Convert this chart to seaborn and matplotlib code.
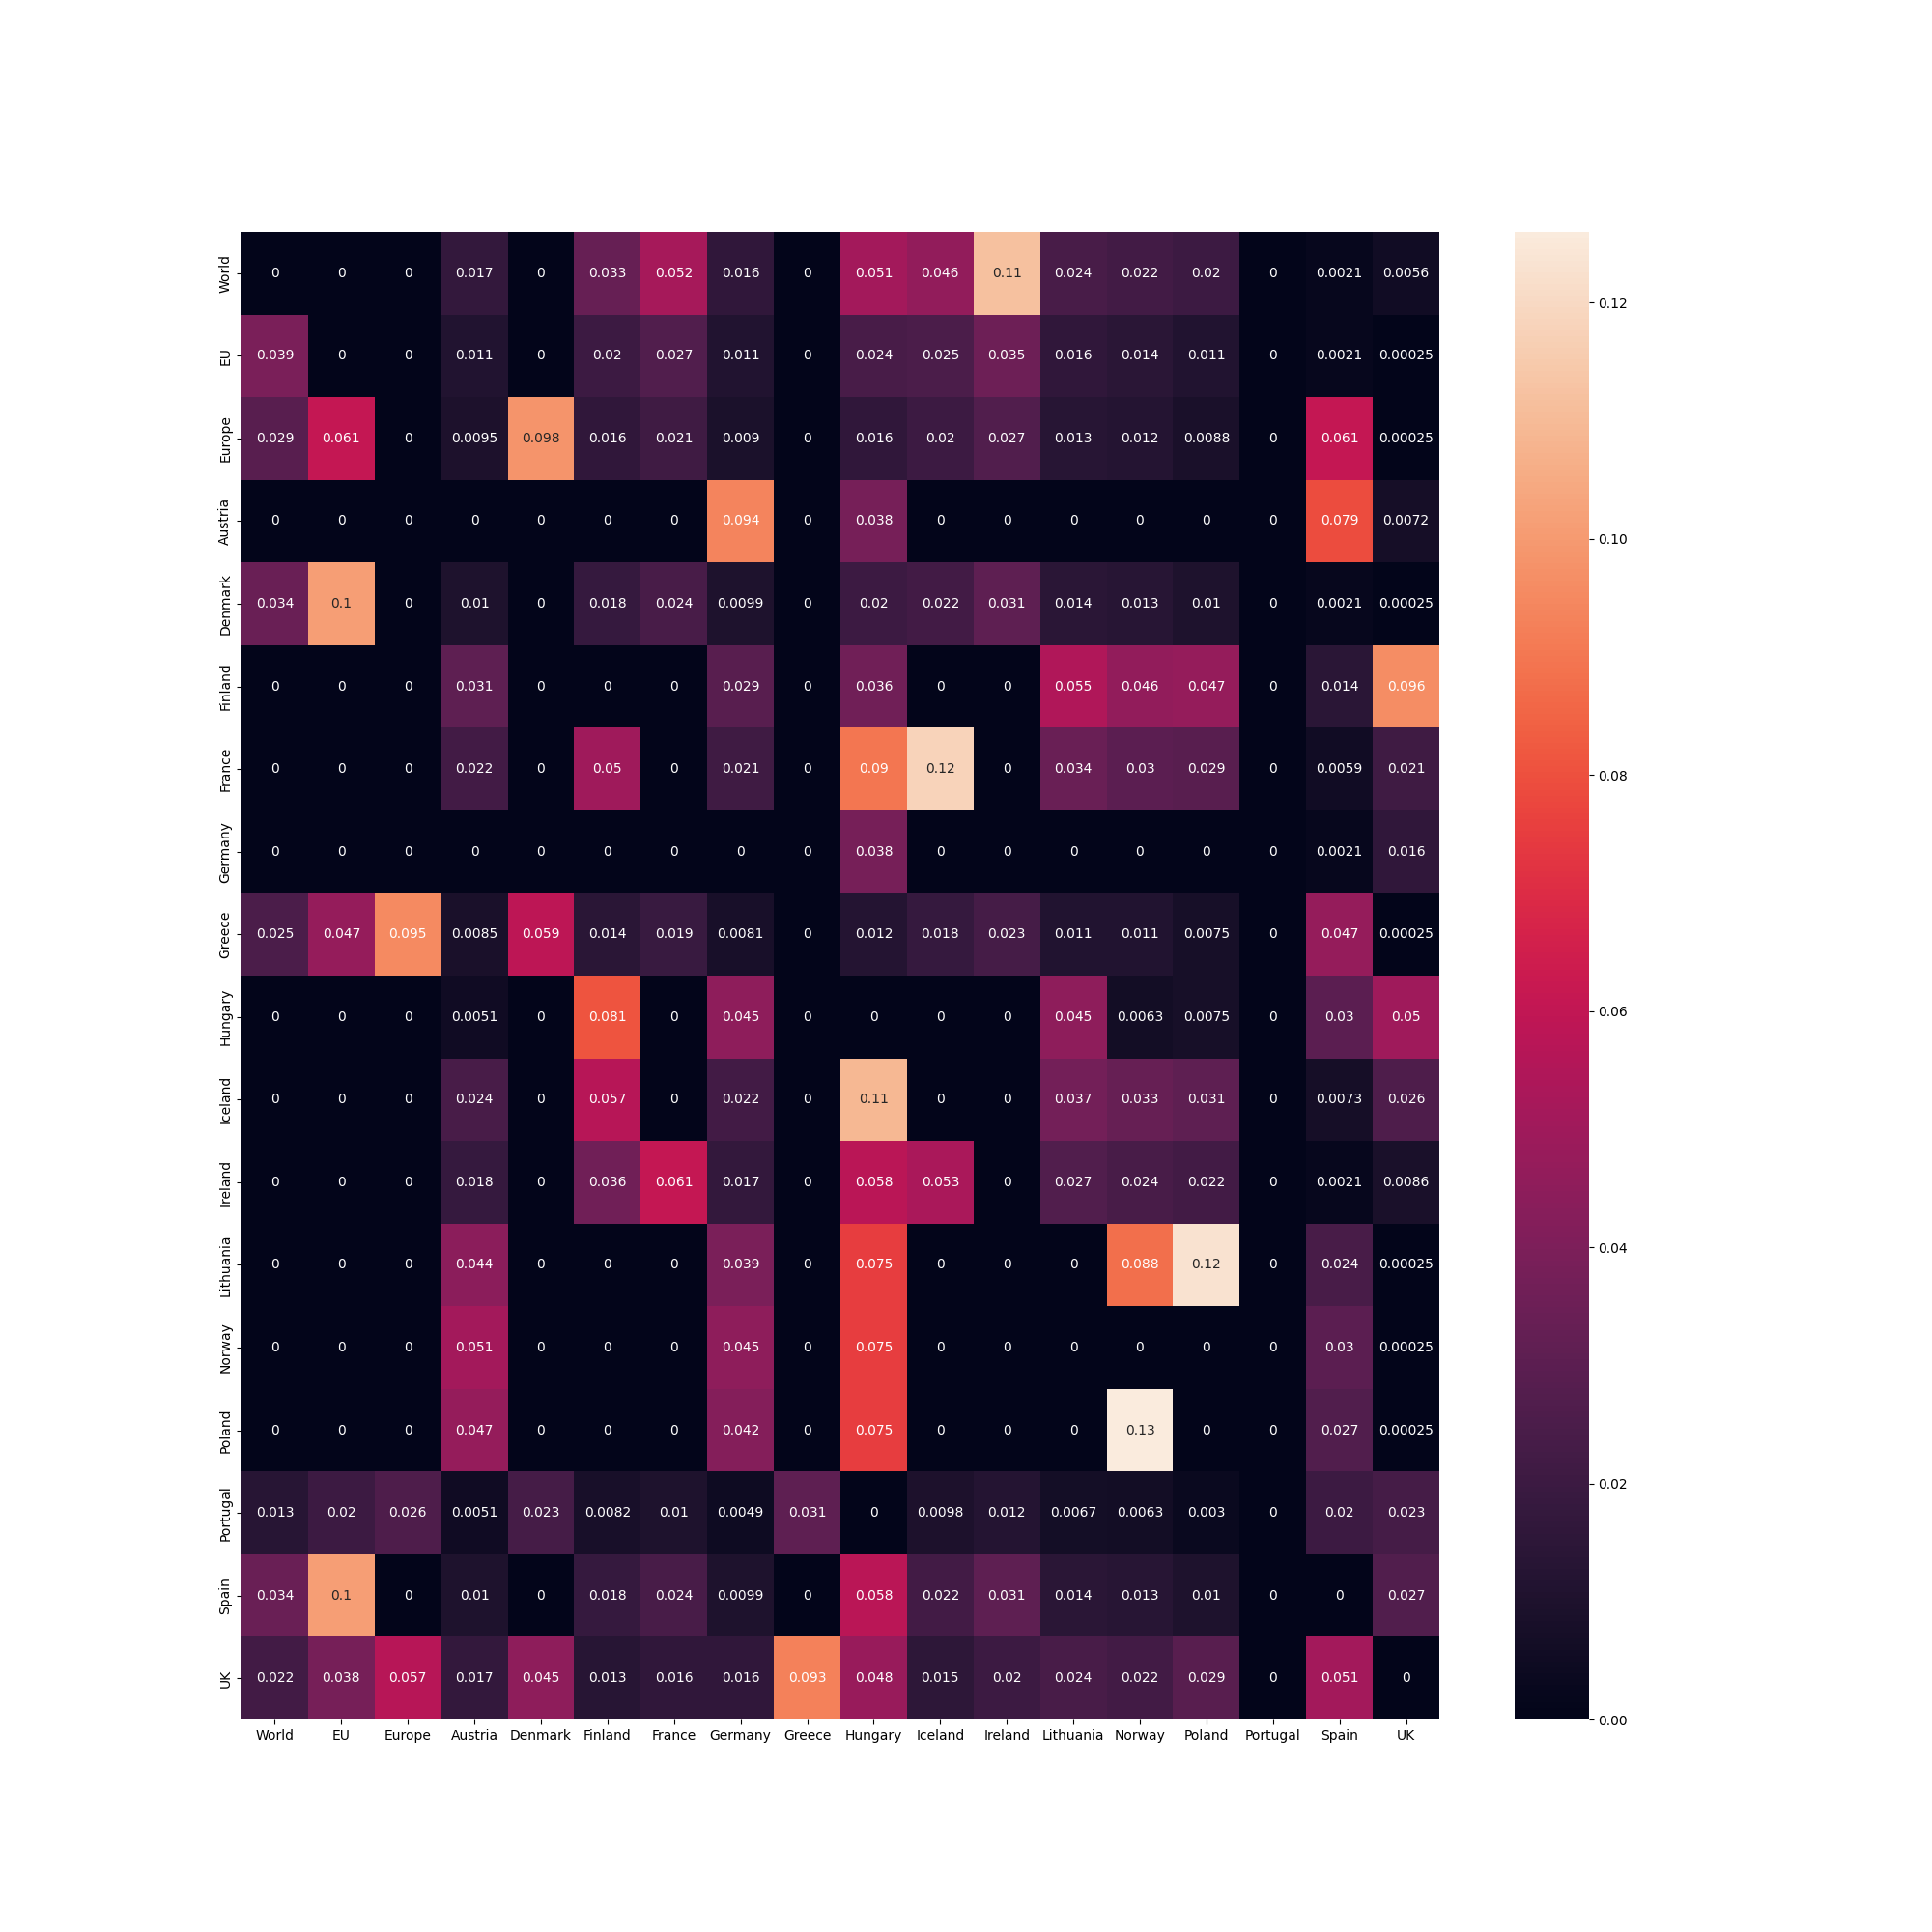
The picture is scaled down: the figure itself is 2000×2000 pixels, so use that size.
import numpy as np
import pandas as pd
import matplotlib
matplotlib.use("Agg")
import matplotlib.pyplot as plt
import seaborn as sns

labels = ["World", "EU", "Europe", "Austria", "Denmark", "Finland", "France",
          "Germany", "Greece", "Hungary", "Iceland", "Ireland", "Lithuania",
          "Norway", "Poland", "Portugal", "Spain", "UK"]

row_world = [0, 0, 0, 0.017, 0, 0.033, 0.052, 0.016, 0, 0.051, 0.046, 0.112, 0.024, 0.022, 0.02, 0, 0.0021, 0.0056]
row_eu = [0.039, 0, 0, 0.011, 0, 0.02, 0.027, 0.011, 0, 0.024, 0.025, 0.035, 0.016, 0.014, 0.011, 0, 0.0021, 0.00025]
row_europe = [0.029, 0.061, 0, 0.0095, 0.098, 0.016, 0.021, 0.009, 0, 0.016, 0.02, 0.027, 0.013, 0.012, 0.0088, 0, 0.061, 0.00025]
row_austria = [0, 0, 0, 0, 0, 0, 0, 0.094, 0, 0.038, 0, 0, 0, 0, 0, 0, 0.079, 0.0072]
row_denmark = [0.034, 0.101, 0, 0.01, 0, 0.018, 0.024, 0.0099, 0, 0.02, 0.022, 0.031, 0.014, 0.013, 0.01, 0, 0.0021, 0.00025]
row_finland = [0, 0, 0, 0.031, 0, 0, 0, 0.029, 0, 0.036, 0, 0, 0.055, 0.046, 0.047, 0, 0.014, 0.096]
row_france = [0, 0, 0, 0.022, 0, 0.05, 0, 0.021, 0, 0.09, 0.118, 0, 0.034, 0.03, 0.029, 0, 0.0059, 0.021]
row_germany = [0, 0, 0, 0, 0, 0, 0, 0, 0, 0.038, 0, 0, 0, 0, 0, 0, 0.0021, 0.016]
row_greece = [0.025, 0.047, 0.095, 0.0085, 0.059, 0.014, 0.019, 0.0081, 0, 0.012, 0.018, 0.023, 0.011, 0.011, 0.0075, 0, 0.047, 0.00025]
row_hungary = [0, 0, 0, 0.0051, 0, 0.081, 0, 0.045, 0, 0, 0, 0, 0.045, 0.0063, 0.0075, 0, 0.03, 0.05]
row_iceland = [0, 0, 0, 0.024, 0, 0.057, 0, 0.022, 0, 0.109, 0, 0, 0.037, 0.033, 0.031, 0, 0.0073, 0.026]
row_ireland = [0, 0, 0, 0.018, 0, 0.036, 0.061, 0.017, 0, 0.058, 0.053, 0, 0.027, 0.024, 0.022, 0, 0.0021, 0.0086]
row_lithuania = [0, 0, 0, 0.044, 0, 0, 0, 0.039, 0, 0.075, 0, 0, 0, 0.088, 0.123, 0, 0.024, 0.00025]
row_norway = [0, 0, 0, 0.051, 0, 0, 0, 0.045, 0, 0.075, 0, 0, 0, 0, 0, 0, 0.03, 0.00025]
row_poland = [0, 0, 0, 0.047, 0, 0, 0, 0.042, 0, 0.075, 0, 0, 0, 0.126, 0, 0, 0.027, 0.00025]
row_portugal = [0.013, 0.02, 0.026, 0.0051, 0.023, 0.0082, 0.01, 0.0049, 0.031, 0, 0.0098, 0.012, 0.0067, 0.0063, 0.003, 0, 0.02, 0.023]
row_spain = [0.034, 0.101, 0, 0.01, 0, 0.018, 0.024, 0.0099, 0, 0.058, 0.022, 0.031, 0.014, 0.013, 0.01, 0, 0, 0.027]
row_uk = [0.022, 0.038, 0.057, 0.017, 0.045, 0.013, 0.016, 0.016, 0.093, 0.048, 0.015, 0.02, 0.024, 0.022, 0.029, 0, 0.051, 0]

rows = [row_world, row_eu, row_europe, row_austria, row_denmark, row_finland,
        row_france, row_germany, row_greece, row_hungary, row_iceland,
        row_ireland, row_lithuania, row_norway, row_poland, row_portugal,
        row_spain, row_uk]

df = pd.DataFrame(rows, index=labels, columns=labels)

fig, ax = plt.subplots(figsize=(20, 20), dpi=100)
sns.heatmap(df, annot=True, ax=ax)
fig.savefig("out.png", dpi=100)
